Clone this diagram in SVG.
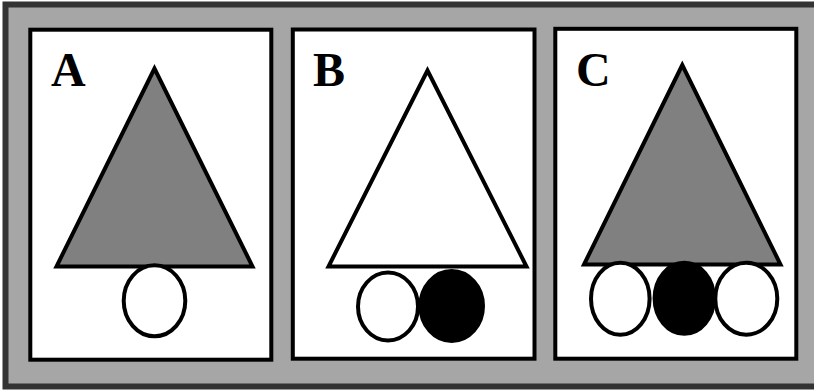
<svg xmlns="http://www.w3.org/2000/svg" width="814" height="390" viewBox="0 0 814 390">
<style>
.panel{fill:#fff;stroke:#000;stroke-width:4}
.tri{stroke:#000;stroke-width:4;stroke-linejoin:miter}
.el{stroke:#000;stroke-width:4}
.lbl{font-family:"Liberation Serif","Times New Roman",serif;font-weight:bold;font-size:48px;fill:#000}
</style>
<rect x="5.5" y="4.5" width="830" height="382" fill="#a6a6a6" stroke="#333" stroke-width="6"/>
<g id="panelA">
<rect class="panel" x="30.3" y="29.7" width="241" height="330"/>
<text class="lbl" x="51" y="86">A</text>
<polygon class="tri" fill="#808080" points="154.5,68.5 56.5,266.5 252.5,266.5"/>
<ellipse class="el" fill="#fff" cx="154.5" cy="300.8" rx="30.8" ry="35.5"/>
</g>
<g id="panelB">
<rect class="panel" x="292.8" y="29.5" width="241.7" height="329.2"/>
<text class="lbl" x="313" y="86">B</text>
<polygon class="tri" fill="#fff" points="427.5,70.5 328.5,266.5 526.5,266.5"/>
<ellipse class="el" fill="#fff" cx="388" cy="306.5" rx="30" ry="34"/>
<ellipse class="el" fill="#000" cx="451.7" cy="306" rx="31.3" ry="35"/>
</g>
<g id="panelC">
<rect class="panel" x="555.3" y="28.8" width="241" height="329.9"/>
<text class="lbl" x="576" y="86">C</text>
<polygon class="tri" fill="#808080" points="682.3,65 584,264.5 780.5,264.5"/>
<ellipse class="el" fill="#fff" cx="620.3" cy="298.7" rx="29.3" ry="36"/>
<ellipse class="el" fill="#000" cx="684.3" cy="298.3" rx="29.7" ry="35.5"/>
<ellipse class="el" fill="#fff" cx="746.3" cy="298.7" rx="31" ry="36"/>
</g>
</svg>
